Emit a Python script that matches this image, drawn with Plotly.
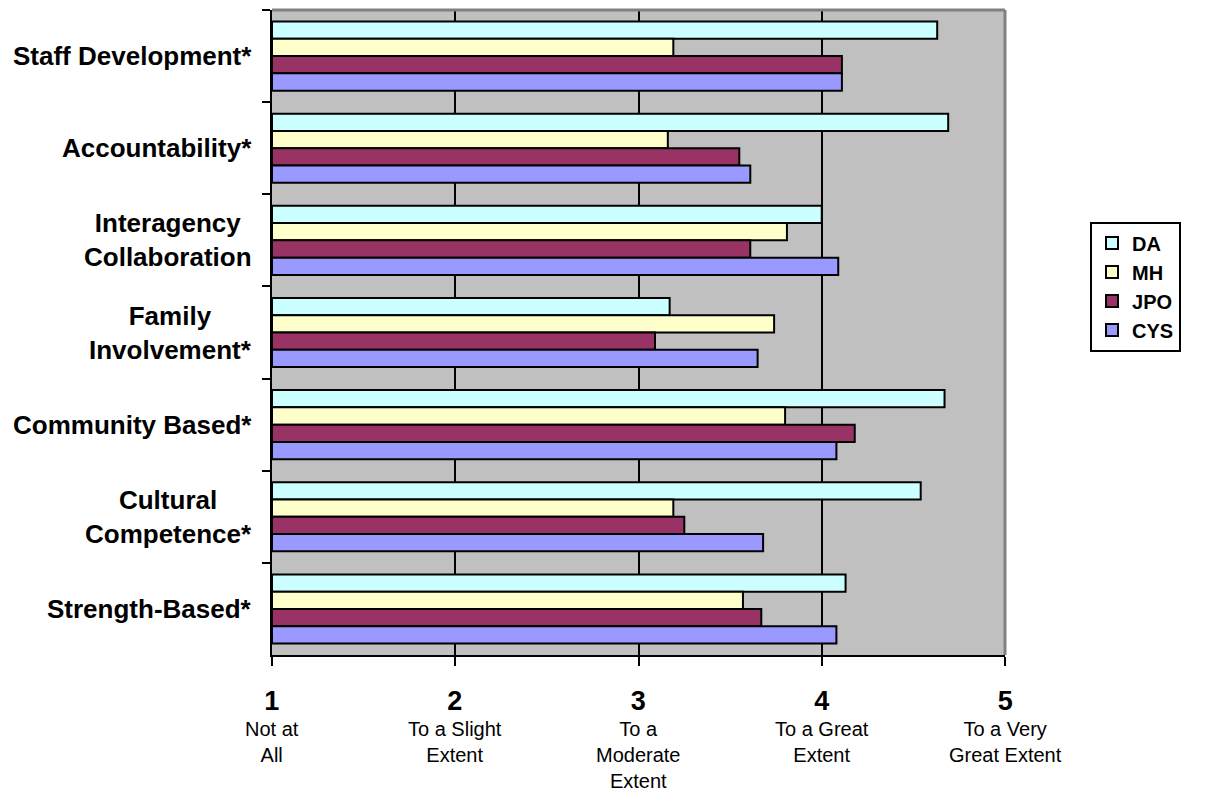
import plotly.graph_objects as go

# Survey dimensions, top to bottom
categories = [
    "Staff Development*",
    "Accountability*",
    "Interagency<br>Collaboration",
    "Family<br>Involvement*",
    "Community Based*",
    "Cultural<br>Competence*",
    "Strength-Based*",
]

# Mean ratings per agency group
da_values = [4.63, 4.69, 4.00, 3.17, 4.67, 4.54, 4.13]
mh_values = [3.19, 3.16, 3.81, 3.74, 3.80, 3.19, 3.57]
jpo_values = [4.11, 3.55, 3.61, 3.09, 4.18, 3.25, 3.67]
cys_values = [4.11, 3.61, 4.09, 3.65, 4.08, 3.68, 4.08]

series_names = ["DA", "MH", "JPO", "CYS"]
series_values = [da_values, mh_values, jpo_values, cys_values]
series_colors = ["#CCFFFF", "#FFFFCC", "#993366", "#9999FF"]

# Rating scale
scale_values = [1, 2, 3, 4, 5]
scale_labels = [
    "Not at<br>All",
    "To a Slight<br>Extent",
    "To a<br>Moderate<br>Extent",
    "To a Great<br>Extent",
    "To a Very<br>Great Extent",
]

FONT = "Liberation Sans, Arial, sans-serif"
SCALE_MIN = 1

fig = go.Figure()
for name, vals, color in zip(series_names, series_values, series_colors):
    # bars grow from the bottom of the rating scale
    fig.add_trace(go.Bar(
        y=categories,
        x=[v - SCALE_MIN for v in vals],
        base=SCALE_MIN,
        orientation="h",
        name=name,
        marker=dict(color=color, line=dict(color="black", width=2)),
        hovertemplate="%{y}: %{customdata}<extra>" + name + "</extra>",
        customdata=vals,
    ))

annotations = []
for cat in categories:
    annotations.append(dict(
        x=0, xref="paper", xshift=-18, xanchor="right",
        y=cat, yref="y", yanchor="middle",
        text="<b>%s</b>" % cat, showarrow=False, align="center",
        font=dict(family=FONT, size=26, color="black"),
    ))
for v, lab in zip(scale_values, scale_labels):
    annotations.append(dict(
        x=v, xref="x", y=0, yref="paper", yshift=-29, yanchor="top",
        xanchor="center", showarrow=False, align="center",
        text="<b><span style='font-size:27px'>%d</span></b><br>%s" % (v, lab),
        font=dict(family=FONT, size=20, color="black"),
    ))

fig.update_layout(
    width=1209,
    height=798,
    margin=dict(l=272, r=204, t=10, b=143),
    paper_bgcolor="white",
    plot_bgcolor="#C0C0C0",
    barmode="group",
    bargap=0.25,
    bargroupgap=0,
    font=dict(family=FONT, color="black"),
    annotations=annotations,
    showlegend=True,
    legend=dict(
        x=1.116, y=0.672, xanchor="left", yanchor="top",
        bgcolor="white", bordercolor="black", borderwidth=2,
        font=dict(family=FONT, size=20, color="black", weight="bold"),
        tracegroupgap=0, itemwidth=30,
    ),
    xaxis=dict(
        range=[1, 5], tickvals=scale_values, showticklabels=False,
        ticks="outside", ticklen=9, tickwidth=2, tickcolor="black",
        showgrid=True, gridcolor="black", gridwidth=2,
        showline=True, linecolor="black", linewidth=2,
        zeroline=False,
    ),
    yaxis=dict(
        type="category", autorange="reversed", showticklabels=False,
        tickson="boundaries", ticks="outside", ticklen=8, tickwidth=2,
        tickcolor="black", showgrid=False,
        showline=True, linecolor="black", linewidth=2,
    ),
    shapes=[
        dict(type="line", xref="paper", yref="paper", x0=0, x1=1, y0=1, y1=1,
             line=dict(color="#808080", width=3)),
        dict(type="line", xref="paper", yref="paper", x0=1, x1=1, y0=0, y1=1,
             line=dict(color="#808080", width=3)),
    ],
)

fig.write_html("out.html")
